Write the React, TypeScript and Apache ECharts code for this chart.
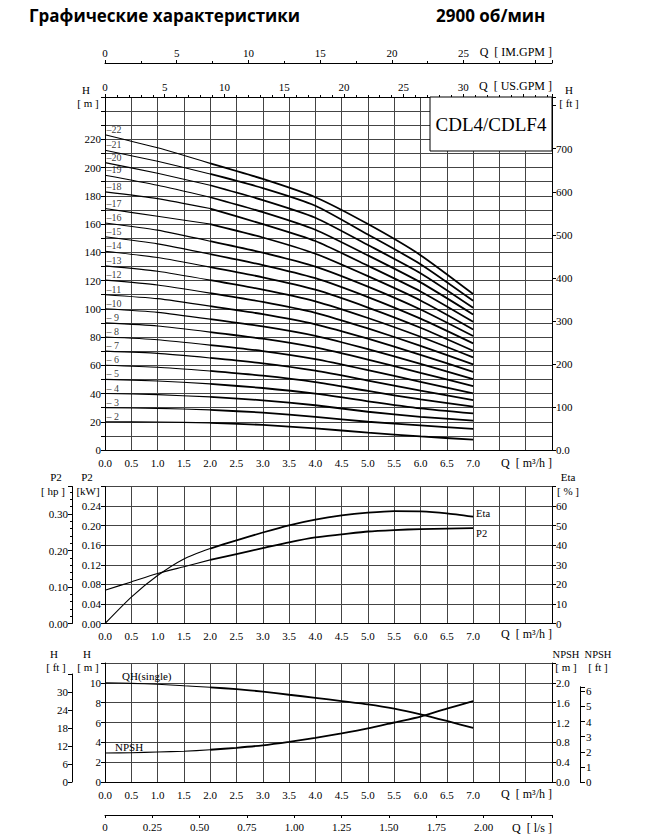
import React, { useEffect, useRef } from 'react';
import * as echarts from 'echarts';

// ---------- DATA ----------
const Q_STAGE = [0, 1, 2, 3, 4, 5, 6, 7];
const STAGES = [2, 3, 4, 5, 6, 7, 8, 9, 10, 11, 12, 13, 14, 15, 16, 17, 18, 19, 20, 21, 22];
const H_STAGE: number[][] = [
  [20, 19.8, 19.2, 17.8, 15.3, 12.3, 9.6, 7.3],
  [30, 29.5, 28.4, 26.5, 23.5, 20, 17.5, 14.9],
  [40, 39.2, 37.6, 35.2, 31.7, 27.1, 23.5, 20.8],
  [50, 48.9, 46.8, 43.9, 39.9, 34.5, 29.5, 25.9],
  [60, 58.6, 56.0, 52.6, 48.0, 41.8, 35.8, 30.7],
  [70, 68.4, 65.2, 61.4, 56.2, 49.2, 42.0, 35.4],
  [80, 78.1, 74.3, 70.1, 64.4, 56.6, 48.3, 40.1],
  [90, 87.8, 83.5, 78.8, 72.6, 64.0, 54.6, 45.3],
  [100, 97.5, 92.7, 87.5, 80.8, 71.4, 61.0, 50.2],
  [110, 107.2, 101.9, 96.2, 89.0, 78.8, 67.4, 55.4],
  [120.3, 116.9, 111.1, 104.9, 97.2, 86.1, 73.8, 60.6],
  [130.4, 126.6, 120.3, 113.6, 105.3, 93.5, 80.2, 65.6],
  [140.8, 136.3, 129.5, 122.3, 113.5, 100.9, 86.6, 70.3],
  [151, 146.0, 138.7, 131.0, 121.7, 108.3, 93.0, 75.5],
  [160.8, 155.7, 147.9, 139.7, 129.9, 115.7, 99.5, 80.7],
  [171, 165.5, 160, 150.5, 139, 123.1, 105.9, 85.4],
  [182.8, 178, 171, 160, 148, 130.5, 112.3, 90.8],
  [194.6, 187.5, 179, 168.5, 156, 137.8, 118.7, 96],
  [203.5, 196, 187.5, 177, 164.5, 145.2, 125.2, 100.7],
  [212.3, 204.5, 195.5, 185.5, 173, 152.6, 131.6, 105.7],
  [223.3, 214, 203, 192, 179, 160, 138, 110.5],
];

const Q_HALF = [0, 0.5, 1, 1.5, 2, 2.5, 3, 3.5, 4, 4.5, 5, 5.5, 6, 6.5, 7];
const ETA = [0, 13.5, 24.5, 33, 38.3, 42.5, 46.5, 50.2, 53.1, 55.2, 56.6, 57.4, 57.3, 56.3, 54.6];
const P2_KW = [0.068, 0.085, 0.102, 0.116, 0.13, 0.142, 0.154, 0.166, 0.176, 0.182, 0.188, 0.191, 0.193, 0.194, 0.195];
const QH_SINGLE = [10.0, 9.95, 9.85, 9.7, 9.55, 9.36, 9.12, 8.8, 8.49, 8.16, 7.83, 7.4, 6.83, 6.16, 5.45];
const NPSH_M = [0.585, 0.59, 0.605, 0.62, 0.65, 0.69, 0.74, 0.81, 0.89, 0.98, 1.08, 1.2, 1.32, 1.48, 1.63];

const Q_MAX = 8.5;
const Q_SPLIT = 2; // thin line below, thick line above
const US_GPM = 4.4029;
const IM_GPM = 3.6662;
const LS = 1 / 3.6;
const FT = 3.28084;
const HP = 1.341;

// ---------- STYLE ----------
const SERIF = "'Liberation Serif', 'Times New Roman', serif";
const SANS = "'Open Sans', Roboto, sans-serif";
const GRID_C = '#444';
const BLACK = '#000';
const LBL = { color: BLACK, fontFamily: SERIF, fontSize: 11 };

const fmtQ = (v: number) => (v <= 7.0001 ? v.toFixed(1) : '');

function qAxis(gridIndex: number) {
  return {
    type: 'value', gridIndex, min: 0, max: Q_MAX, interval: 0.5,
    axisLine: { show: true, onZero: false, lineStyle: { color: BLACK, width: 1 } },
    axisTick: { show: false },
    axisLabel: { ...LBL, formatter: fmtQ, margin: 7 },
    splitLine: { show: true, lineStyle: { color: GRID_C, width: 1 } },
  };
}

function yAx(o: any) {
  return {
    type: 'value',
    axisLine: { show: true, onZero: false, lineStyle: { color: BLACK, width: 1 } },
    axisTick: { show: true, length: 4, lineStyle: { color: BLACK } },
    splitLine: { show: false },
    ...o,
    axisLabel: { ...LBL, margin: 4, ...(o.axisLabel || {}) },
  };
}

function splitSeries(name: string, xs: number[], ys: number[], xi: number, yi: number, extraThick: any = {}) {
  const thinData: number[][] = [];
  const thickData: number[][] = [];
  xs.forEach((q, i) => {
    if (q <= Q_SPLIT) thinData.push([q, ys[i]]);
    if (q >= Q_SPLIT) thickData.push([q, ys[i]]);
  });
  const common = {
    type: 'line', xAxisIndex: xi, yAxisIndex: yi, symbol: 'none', smooth: 0.2,
    silent: true, z: 5,
  };
  return [
    { ...common, name: name + '_a', data: thinData, lineStyle: { color: BLACK, width: 1.1 } },
    { ...common, name: name + '_b', data: thickData, lineStyle: { color: BLACK, width: 1.8 }, ...extraThick },
  ];
}

function txt(x: number, y: number, text: string, o: any = {}) {
  const align = o.align || 'center';
  return {
    type: 'text', x, y, z: 110, silent: true,
    style: {
      text, fill: BLACK, fontFamily: o.family || SERIF, fontSize: o.size || 11,
      fontWeight: o.weight || 'normal',
      align, textAlign: align, verticalAlign: 'middle', textVerticalAlign: 'middle',
    },
  };
}

export default function App() {
  const ref = useRef<HTMLDivElement>(null);

  useEffect(() => {
    if (!ref.current) return;
    const chart = echarts.init(ref.current, null, { renderer: 'svg' });

    const series: any[] = [];
    STAGES.forEach((n, i) => {
      series.push(...splitSeries('stage' + n, Q_STAGE, H_STAGE[i], 0, 0));
    });
    series.push({
      type: 'scatter', name: 'stageLabels', xAxisIndex: 0, yAxisIndex: 0,
      symbolSize: 1, itemStyle: { color: 'rgba(0,0,0,0)' }, silent: true, z: 6,
      data: STAGES.map((n, i) => [0, H_STAGE[i][0], n]),
      label: {
        show: true, position: [2, -10], color: BLACK, fontFamily: SERIF, fontSize: 10,
        formatter: (p: any) => (p.value[2] >= 10 ? '\u2013' + p.value[2] : '\u2013 ' + p.value[2]),
      },
    });
    series.push(...splitSeries('Eta', Q_HALF, ETA, 3, 4, {
      endLabel: { show: true, formatter: 'Eta', color: BLACK, fontFamily: SERIF, fontSize: 10.5, distance: 3, offset: [0, -3] },
    }));
    series.push(...splitSeries('P2', Q_HALF, P2_KW, 3, 2, {
      endLabel: { show: true, formatter: 'P2', color: BLACK, fontFamily: SERIF, fontSize: 10.5, distance: 3, offset: [0, 5] },
    }));
    series.push(...splitSeries('QH', Q_HALF, QH_SINGLE, 4, 5));
    series.push(...splitSeries('NPSH', Q_HALF, NPSH_M, 4, 6));

    const option: any = {
      animation: false,
      backgroundColor: '#fff',
      grid: [
        { left: 105, top: 97, width: 447, height: 353 },
        { left: 105, top: 486.5, width: 447, height: 137 },
        { left: 105, top: 663, width: 447, height: 119 },
        { left: 105, top: 674, width: 447, height: 108 },
        { left: 105, top: 686.8, width: 447, height: 95.2 },
      ],
      xAxis: [
        qAxis(0),
        {
          type: 'value', gridIndex: 0, position: 'top', min: 0, max: Q_MAX * US_GPM, interval: 5,
          axisLine: { show: true, onZero: false, lineStyle: { color: BLACK } },
          axisTick: { show: true, length: 3, lineStyle: { color: BLACK } },
          minorTick: { show: true, splitNumber: 5, length: 2, lineStyle: { color: BLACK } },
          axisLabel: { ...LBL, margin: 5, formatter: (v: number) => (v <= 30 ? String(v) : '') },
          splitLine: { show: false },
        },
        {
          type: 'value', gridIndex: 0, position: 'top', offset: 34, min: 0, max: Q_MAX * IM_GPM, interval: 5,
          axisLine: { show: true, onZero: false, lineStyle: { color: BLACK } },
          axisTick: { show: true, length: 3, lineStyle: { color: BLACK } },
          minorTick: { show: true, splitNumber: 2, length: 2, lineStyle: { color: BLACK } },
          axisLabel: { ...LBL, margin: 5, formatter: (v: number) => (v <= 25 ? String(v) : '') },
          splitLine: { show: false },
        },
        qAxis(1),
        qAxis(2),
        {
          type: 'value', gridIndex: 2, position: 'bottom', offset: 33, min: 0, max: Q_MAX * LS, interval: 0.25,
          axisLine: { show: true, onZero: false, lineStyle: { color: BLACK } },
          axisTick: { show: true, length: 3, lineStyle: { color: BLACK } },
          axisLabel: { ...LBL, margin: 6, formatter: (v: number) => (v > 2.001 ? '' : v === 0 ? '0' : v.toFixed(2)) },
          splitLine: { show: false },
        },
        { type: 'value', gridIndex: 3, min: 0, max: Q_MAX, show: false },
        { type: 'value', gridIndex: 4, min: 0, max: Q_MAX, show: false },
      ],
      yAxis: [
        yAx({
          gridIndex: 0, position: 'left', min: 0, max: 250, interval: 10,
          axisLabel: { formatter: (v: number) => (v % 20 === 0 && v <= 220 ? String(v) : '') },
          splitLine: { show: true, lineStyle: { color: GRID_C, width: 1 } },
        }),
        yAx({
          gridIndex: 0, position: 'right', min: 0, max: 250 * FT, interval: 100,
          axisLabel: { formatter: (v: number) => (v === 0 ? '0.0' : v <= 700 ? String(v) : '') },
        }),
        yAx({
          gridIndex: 1, position: 'left', min: 0, max: 0.28, interval: 0.04,
          axisLabel: { formatter: (v: number) => (v <= 0.2401 ? v.toFixed(2) : '') },
          splitLine: { show: true, lineStyle: { color: GRID_C, width: 1 } },
        }),
        yAx({
          gridIndex: 1, position: 'left', offset: 33, min: 0, max: 0.28 * HP, interval: 0.1,
          minorTick: { show: true, splitNumber: 5, length: 2, lineStyle: { color: BLACK } },
          axisLabel: { formatter: (v: number) => (v <= 0.3001 ? v.toFixed(2) : '') },
        }),
        yAx({
          gridIndex: 1, position: 'right', min: 0, max: 70, interval: 10,
          axisLabel: { formatter: (v: number) => (v <= 60 ? String(v) : '') },
        }),
        yAx({
          gridIndex: 2, position: 'left', min: 0, max: 12, interval: 2,
          axisLabel: { formatter: (v: number) => (v <= 10 ? String(v) : '') },
          splitLine: { show: true, lineStyle: { color: GRID_C, width: 1 } },
        }),
        yAx({
          gridIndex: 2, position: 'right', min: 0, max: 2.4, interval: 0.4,
          axisLabel: { formatter: (v: number) => (v <= 2.001 ? v.toFixed(1) : '') },
        }),
        yAx({
          gridIndex: 3, position: 'left', offset: 33, min: 0, max: 36, interval: 6,
          axisLabel: { formatter: (v: number) => (v <= 30 ? String(v) : '') },
        }),
        yAx({
          gridIndex: 4, position: 'right', offset: 28, min: 0, max: 6.3, interval: 1,
          axisTick: { show: true, length: 5, lineStyle: { color: BLACK } },
          axisLabel: { margin: 6, formatter: (v: number) => (v <= 6 && Number.isInteger(v) ? String(v) : '') },
        }),
      ],
      graphic: [
        txt(29, 15, 'Графические характеристики', { align: 'left', family: SANS, size: 17, weight: 'bold' }),
        txt(436, 15, '2900 об/мин', { align: 'left', family: SANS, size: 17, weight: 'bold' }),
        txt(552, 52, 'Q  [ IM.GPM ]', { align: 'right', size: 12 }),
        txt(552, 86, 'Q  [ US.GPM ]', { align: 'right', size: 12 }),
        txt(86, 90, 'H', { size: 11 }),
        txt(88, 103, '[ m ]', { size: 11 }),
        txt(569, 90, 'H', { size: 11 }),
        txt(569, 103, '[ ft ]', { size: 11 }),
        {
          type: 'rect', z: 100, silent: true,
          shape: { x: 430, y: 97, width: 122, height: 54 },
          style: { fill: '#fff', stroke: BLACK, lineWidth: 1 },
        },
        txt(491, 124, 'CDL4/CDLF4', { size: 19 }),
        txt(552, 463, 'Q  [ m\u00B3/h ]', { align: 'right', size: 12 }),
        txt(56, 477, 'P2', { size: 11 }),
        txt(53, 491, '[ hp ]', { size: 11 }),
        txt(87, 477, 'P2', { size: 11 }),
        txt(88, 491, '[kW]', { size: 11 }),
        txt(568, 477, 'Eta', { size: 11 }),
        txt(568, 491, '[ % ]', { size: 11 }),
        txt(552, 634, 'Q  [ m\u00B3/h ]', { align: 'right', size: 12 }),
        txt(54, 654, 'H', { size: 11 }),
        txt(56, 667, '[ ft ]', { size: 11 }),
        txt(87, 654, 'H', { size: 11 }),
        txt(88, 667, '[ m ]', { size: 11 }),
        txt(566, 654, 'NPSH', { size: 10.5 }),
        txt(566, 667, '[ m ]', { size: 11 }),
        txt(598, 654, 'NPSH', { size: 10.5 }),
        txt(598, 667, '[ ft ]', { size: 11 }),
        txt(122, 676, 'QH(single)', { align: 'left', size: 11 }),
        txt(115, 747, 'NPSH', { align: 'left', size: 11 }),
        txt(552, 794, 'Q  [ m\u00B3/h ]', { align: 'right', size: 12 }),
        txt(552, 828, 'Q  [ l/s ]', { align: 'right', size: 12 }),
      ],
      series,
    };

    chart.setOption(option);
    return () => chart.dispose();
  }, []);

  return (
    <div
      ref={ref}
      style={{ position: 'absolute', left: 0, top: 0, width: 645, height: 837, background: '#fff' }}
    />
  );
}
